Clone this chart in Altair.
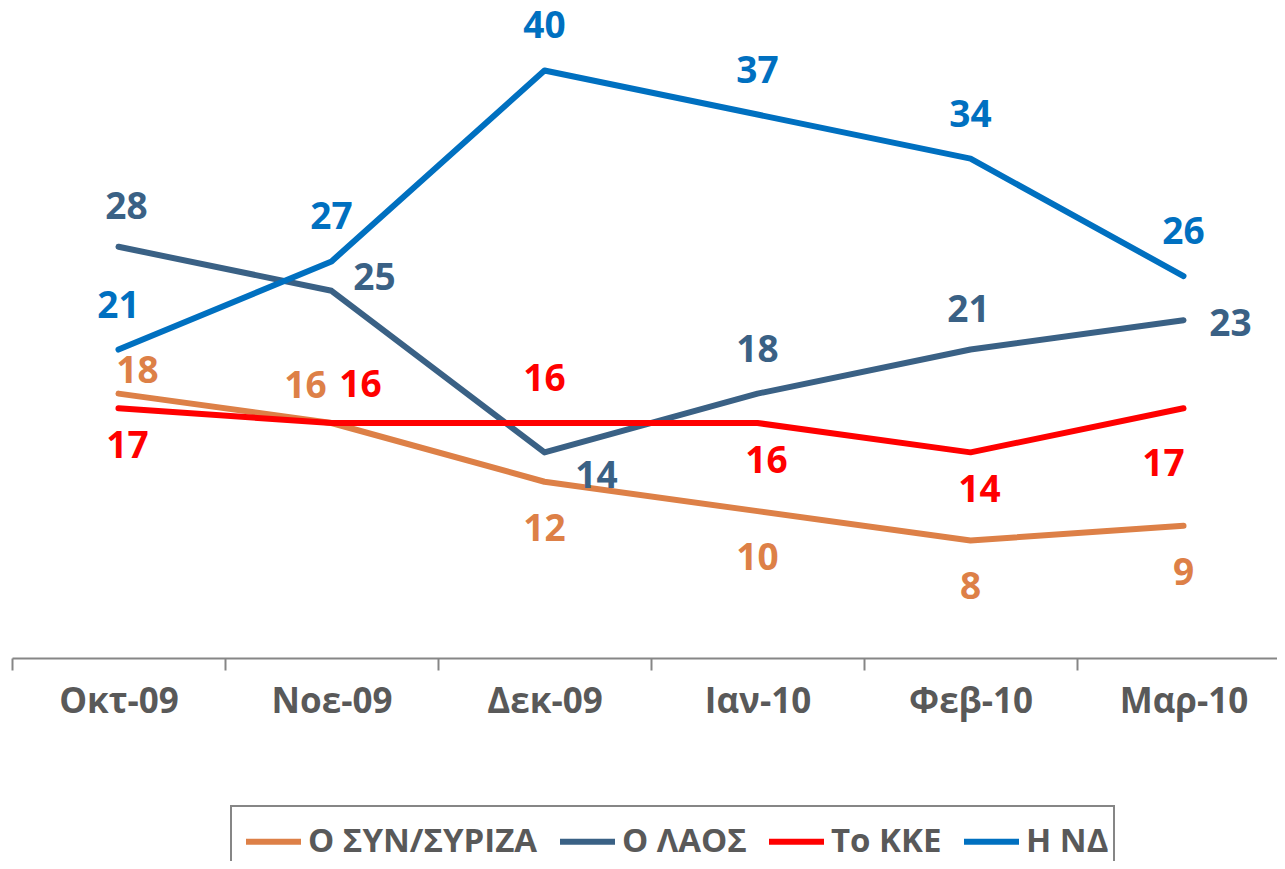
import altair as alt
import pandas as pd

months = ["Οκτ-09", "Νοε-09", "Δεκ-09", "Ιαν-10", "Φεβ-10", "Μαρ-10"]
parties = ["Ο ΣΥΝ/ΣΥΡΙΖΑ", "Ο ΛΑΟΣ", "Το ΚΚΕ", "Η ΝΔ"]
syriza = [18, 16, 12, 10, 8, 9]
laos = [28, 25, 14, 18, 21, 23]
kke = [17, 16, 16, 16, 14, 17]
nd = [21, 27, 40, 37, 34, 26]
colors = ["#DD8047", "#3A6185", "#FF0000", "#0070C0"]

# label placement keys (where each data label sits relative to its point)
syriza_pos = ["ar_near", "al", "b", "b", "b", "b"]
laos_pos = ["a_low_r", "r_up", "br_far", "a", "a_low", "r_dn"]
kke_pos = ["br", "ar", "a", "br", "br", "bl"]
nd_pos = ["a", "a", "a", "a", "a", "a"]

offsets = {
    "a": (0, -43), "a_low": (-2, -39), "a_low_r": (8, -39),
    "b": (0, 48), "r_up": (43, -12), "r_dn": (47, 5), "ar": (29, -37),
    "al": (-26, -36), "ar_near": (19, -22), "br": (9, 39),
    "bl": (-20, 57), "br_far": (52, 25),
}

rows = []
for party, vals, pos in zip(parties, [syriza, laos, kke, nd],
                            [syriza_pos, laos_pos, kke_pos, nd_pos]):
    for m, v, p in zip(months, vals, pos):
        rows.append({"month": m, "party": party, "value": v, "pos": p})
df = pd.DataFrame(rows)

FONT = "Open Sans"
GRAY = "#595959"

x_enc = alt.X(
    "month:N", sort=months,
    scale=alt.Scale(type="band", domain=months, range=[0, 1278],
                    paddingInner=0, paddingOuter=0),
    axis=alt.Axis(title=None, labelAngle=0, tickBand="extent",
                  domainColor="#868686", domainWidth=2,
                  tickColor="#868686", tickWidth=2, tickSize=12,
                  labelFont=FONT, labelFontWeight="bold", labelFontSize=35,
                  labelColor=GRAY, labelPadding=14, grid=False),
)
y_enc = alt.Y("value:Q", scale=alt.Scale(domain=[0, 43.71], nice=False, zero=True),
              axis=None)
color_scale = alt.Scale(domain=parties, range=colors)

layers = []
for i, party in enumerate(parties):
    legend = alt.Legend(
        title=None, orient="none", legendX=219, legendY=790,
        direction="horizontal", padding=5, symbolOffset=7,
        strokeColor="#868686", fillColor="#FFFFFF", symbolType="stroke",
        symbolSize=3025, symbolStrokeWidth=6, labelFont=FONT,
        labelFontWeight="bold", labelFontSize=33, labelColor=GRAY,
        columnPadding=10, labelOffset=4, labelLimit=500,
    )
    layers.append(
        alt.Chart(df).transform_filter(alt.datum.party == party)
        .mark_line(strokeWidth=6, strokeCap="round", strokeJoin="round")
        .encode(x=x_enc, y=y_enc,
                color=alt.Color("party:N", scale=color_scale, legend=legend))
    )

for key, (dx, dy) in offsets.items():
    layers.append(
        alt.Chart(df).transform_filter(alt.datum.pos == key)
        .mark_text(font=FONT, fontWeight="bold", fontSize=37, dx=dx, dy=dy,
                   baseline="middle", align="center")
        .encode(x=x_enc, y=y_enc, text=alt.Text("value:Q"),
                color=alt.Color("party:N", scale=color_scale, legend=None))
    )

chart = alt.layer(*layers).properties(
    width=1265, height=642,
    autosize=alt.AutoSizeParams(type="none"),
    padding={"left": 4, "top": 8, "right": 0, "bottom": 203},
).configure_view(stroke=None).configure_legend(strokeWidth=2)

chart.save("out.html", embed_options={"renderer": "svg", "actions": False})
